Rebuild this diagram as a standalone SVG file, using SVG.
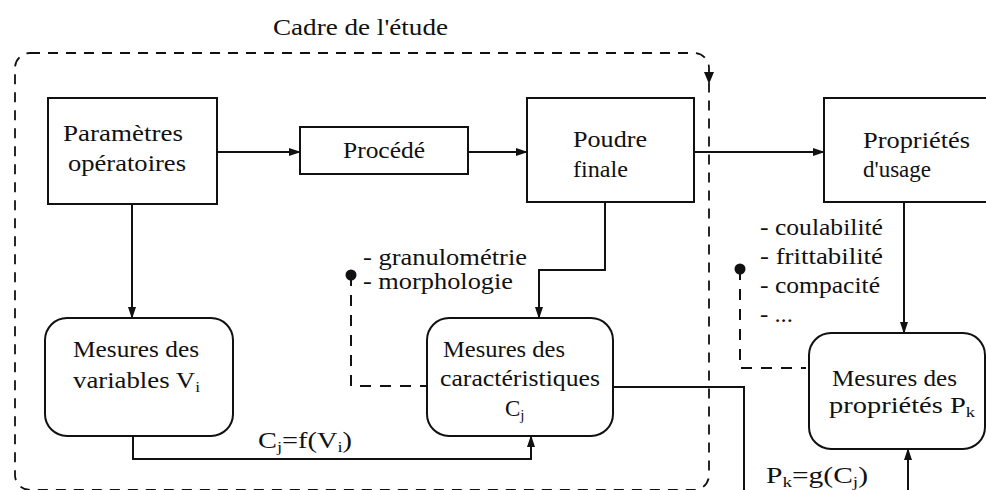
<svg xmlns="http://www.w3.org/2000/svg" width="986" height="490" viewBox="0 0 986 490">
<style>
.t{font-family:"Liberation Serif","Times New Roman",serif;font-size:23px;fill:#111}
.s{font-size:15px}
.box{fill:#fff;stroke:#111;stroke-width:2}
.ln{fill:none;stroke:#111;stroke-width:2}
.dl{fill:none;stroke:#111;stroke-width:2;stroke-dasharray:11 9}
.fr{fill:none;stroke:#111;stroke-width:1.8;stroke-dasharray:10 8}
</style>
<defs>
<marker id="ah" markerWidth="12" markerHeight="8" refX="11" refY="4" orient="auto" markerUnits="userSpaceOnUse">
<path d="M0,0 L12,4 L0,8 Z" fill="#111"/>
</marker>
</defs>
<rect width="986" height="490" fill="#fff"/>
<g id="cadre">
<rect class="fr" x="15" y="53" width="694" height="437" rx="15"/>
<path d="M704,72 L709,84 L714,72 Z" fill="#111"/>
<text class="t" x="273" y="35" textLength="175" lengthAdjust="spacingAndGlyphs">Cadre de l'étude</text>
</g>
<g id="connectors">
<line class="ln" x1="217" y1="152" x2="300" y2="152" marker-end="url(#ah)"/>
<line class="ln" x1="468" y1="152" x2="527" y2="152" marker-end="url(#ah)"/>
<line class="ln" x1="694" y1="152" x2="824" y2="152" marker-end="url(#ah)"/>
<line class="ln" x1="132" y1="204" x2="132" y2="318" marker-end="url(#ah)"/>
<polyline class="ln" points="605,202 605,270 539,270 539,318" marker-end="url(#ah)"/>
<line class="ln" x1="904" y1="202" x2="904" y2="333" marker-end="url(#ah)"/>
<polyline class="ln" points="133,436 133,459 531,459 531,436" marker-end="url(#ah)"/>
<polyline class="ln" points="613,387 744,387 744,492"/>
<line class="ln" x1="908" y1="492" x2="908" y2="449" marker-end="url(#ah)"/>
<polyline class="dl" points="351,275 351,386 427,386"/>
<circle cx="351" cy="275" r="5.5" fill="#111"/>
<polyline class="dl" points="740,269 740,368 806,368"/>
<circle cx="740" cy="269" r="5.5" fill="#111"/>
<text class="t" x="258" y="448" textLength="94" lengthAdjust="spacingAndGlyphs">C<tspan class="s" dy="4">j</tspan><tspan dy="-4">=f(V</tspan><tspan class="s" dy="4">i</tspan><tspan dy="-4">)</tspan></text>
<text class="t" x="766" y="483" textLength="102" lengthAdjust="spacingAndGlyphs">P<tspan class="s" dy="4">k</tspan><tspan dy="-4">=g(C</tspan><tspan class="s" dy="4">j</tspan><tspan dy="-4">)</tspan></text>
</g>
<g id="parametres">
<rect class="box" x="48" y="98" width="169" height="106"/>
<text class="t" x="63" y="141" textLength="120" lengthAdjust="spacingAndGlyphs">Paramètres</text>
<text class="t" x="68" y="171" textLength="118" lengthAdjust="spacingAndGlyphs">opératoires</text>
</g>
<g id="procede">
<rect class="box" x="300" y="127" width="168" height="47"/>
<text class="t" x="343" y="158" textLength="82" lengthAdjust="spacingAndGlyphs">Procédé</text>
</g>
<g id="poudre">
<rect class="box" x="527" y="98" width="167" height="104"/>
<text class="t" x="573" y="147" textLength="74" lengthAdjust="spacingAndGlyphs">Poudre</text>
<text class="t" x="573" y="177" textLength="55" lengthAdjust="spacingAndGlyphs">finale</text>
</g>
<g id="proprietes">
<rect class="box" x="824" y="98" width="170" height="104"/>
<text class="t" x="863" y="148" textLength="107" lengthAdjust="spacingAndGlyphs">Propriétés</text>
<text class="t" x="863" y="177">d'usage</text>
</g>
<g id="mesures-v">
<rect class="box" x="45" y="318" width="188" height="118" rx="22"/>
<text class="t" x="73" y="357" textLength="126" lengthAdjust="spacingAndGlyphs">Mesures des</text>
<text class="t" x="73" y="388" textLength="127" lengthAdjust="spacingAndGlyphs">variables V<tspan class="s" dy="4">i</tspan></text>
</g>
<g id="mesures-c">
<rect class="box" x="427" y="318" width="186" height="118" rx="22"/>
<text class="t" x="443" y="357" textLength="122" lengthAdjust="spacingAndGlyphs">Mesures des</text>
<text class="t" x="440" y="386" textLength="160" lengthAdjust="spacingAndGlyphs">caractéristiques</text>
<text class="t" x="505" y="416">C<tspan class="s" dy="4">j</tspan></text>
</g>
<g id="mesures-p">
<rect class="box" x="809" y="333" width="176" height="116" rx="22"/>
<text class="t" x="832" y="386" textLength="125" lengthAdjust="spacingAndGlyphs">Mesures des</text>
<text class="t" x="829" y="413" textLength="146" lengthAdjust="spacingAndGlyphs">propriétés P<tspan class="s" dy="4">k</tspan></text>
</g>
<g id="labels">
<text class="t" x="363" y="265" textLength="164" lengthAdjust="spacingAndGlyphs">- granulométrie</text>
<text class="t" x="363" y="289" textLength="150" lengthAdjust="spacingAndGlyphs">- morphologie</text>
<text class="t" x="760" y="235" textLength="123" lengthAdjust="spacingAndGlyphs">- coulabilité</text>
<text class="t" x="760" y="264" textLength="123" lengthAdjust="spacingAndGlyphs">- frittabilité</text>
<text class="t" x="760" y="293" textLength="120" lengthAdjust="spacingAndGlyphs">- compacité</text>
<text class="t" x="760" y="322" textLength="33" lengthAdjust="spacingAndGlyphs">- ...</text>
</g>
</svg>
